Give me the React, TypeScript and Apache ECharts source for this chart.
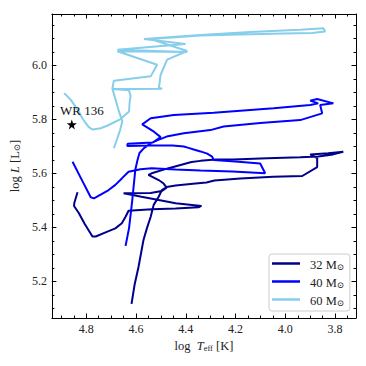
import React, { useEffect, useRef } from 'react';
import * as echarts from 'echarts';

const FONT = '"Liberation Serif", "DejaVu Serif", serif';

// axis extents (log Teff reversed)
const X_MIN = 3.716;
const X_MAX = 4.938;
const Y_MIN = 5.064;
const Y_MAX = 6.19;

const xTickLabels = [3.8, 4.0, 4.2, 4.4, 4.6, 4.8];
const yTickLabels = [5.2, 5.4, 5.6, 5.8, 6.0];
const xMinorTicks = Array.from({ length: 24 }, (_, i) => +(3.75 + i * 0.05).toFixed(2));
const yMinorTicks = Array.from({ length: 22 }, (_, i) => +(5.1 + i * 0.05).toFixed(2));

const seriesNames = ['32', '40', '60'];
const seriesColors = ['#00008b', '#0000ff', '#87ceeb'];

// [log Teff, log L]
const track32: [number, number][] = [
  [4.618, 5.116], [4.606, 5.186], [4.590, 5.253], [4.570, 5.353], [4.556, 5.397],
  [4.541, 5.439], [4.529, 5.483], [4.509, 5.513], [4.496, 5.538], [4.477, 5.549],
  [4.441, 5.555], [4.361, 5.562], [4.317, 5.566], [4.285, 5.573], [4.181, 5.581],
  [4.049, 5.587], [3.932, 5.590], [3.872, 5.623], [3.872, 5.656], [3.900, 5.670],
  [3.828, 5.674], [3.767, 5.680], [3.808, 5.670], [3.868, 5.662], [3.940, 5.659],
  [4.073, 5.656], [4.209, 5.651], [4.281, 5.651], [4.341, 5.646], [4.377, 5.642],
  [4.469, 5.619], [4.537, 5.600], [4.550, 5.594], [4.509, 5.575], [4.489, 5.562],
  [4.477, 5.547], [4.497, 5.534], [4.541, 5.527], [4.650, 5.526], [4.578, 5.513],
  [4.509, 5.501], [4.441, 5.489], [4.337, 5.479], [4.349, 5.474], [4.441, 5.470],
  [4.537, 5.467], [4.630, 5.461], [4.642, 5.439], [4.657, 5.415], [4.683, 5.396],
  [4.715, 5.384], [4.762, 5.366], [4.775, 5.366], [4.806, 5.412], [4.830, 5.453],
  [4.849, 5.479], [4.848, 5.490], [4.835, 5.530],
];

const track40: [number, number][] = [
  [4.642, 5.331], [4.628, 5.397], [4.615, 5.501], [4.603, 5.612], [4.594, 5.649],
  [4.586, 5.675], [4.568, 5.693], [4.541, 5.711], [4.513, 5.723], [4.477, 5.736],
  [4.408, 5.748], [4.301, 5.760], [4.248, 5.773], [4.101, 5.786], [3.940, 5.797],
  [3.852, 5.822], [3.860, 5.853], [3.807, 5.859], [3.872, 5.875], [3.900, 5.869],
  [3.868, 5.859], [3.900, 5.853], [4.047, 5.841], [4.288, 5.824], [4.448, 5.816],
  [4.541, 5.804], [4.575, 5.781], [4.528, 5.754], [4.501, 5.734], [4.533, 5.714],
  [4.634, 5.709], [4.635, 5.701], [4.541, 5.703], [4.453, 5.703], [4.408, 5.699],
  [4.389, 5.694], [4.368, 5.688], [4.341, 5.681], [4.314, 5.673], [4.294, 5.662],
  [4.288, 5.649], [4.201, 5.644], [4.101, 5.636], [4.081, 5.600], [4.213, 5.607],
  [4.341, 5.610], [4.441, 5.614], [4.537, 5.619], [4.582, 5.615], [4.630, 5.606],
  [4.657, 5.581], [4.683, 5.557], [4.710, 5.538], [4.742, 5.521], [4.769, 5.507],
  [4.782, 5.511], [4.822, 5.583], [4.855, 5.643],
];

const track60: [number, number][] = [
  [4.689, 5.693], [4.676, 5.727], [4.664, 5.760], [4.655, 5.793], [4.669, 5.830],
  [4.682, 5.872], [4.695, 5.913], [4.689, 5.943], [4.541, 5.959], [4.515, 6.002],
  [4.675, 6.052], [4.394, 6.049], [4.675, 6.058], [4.401, 6.079], [4.568, 6.097],
  [4.341, 6.112], [4.141, 6.123], [3.940, 6.132], [3.847, 6.137], [3.840, 6.125],
  [3.893, 6.120], [4.008, 6.118], [4.141, 6.115], [4.341, 6.110], [4.541, 6.097],
  [4.394, 6.053], [4.475, 6.021], [4.501, 5.965], [4.508, 5.916], [4.495, 5.913],
  [4.602, 5.912], [4.695, 5.912], [4.628, 5.908], [4.622, 5.886], [4.626, 5.860],
  [4.628, 5.829], [4.662, 5.801], [4.714, 5.777], [4.742, 5.767], [4.774, 5.762],
  [4.790, 5.771], [4.814, 5.801], [4.835, 5.836], [4.862, 5.872], [4.889, 5.897],
];

const wr136: [number, number] = [4.858, 5.781];
const wrLabel = 'WR 136';

const STAR =
  'path://M50,0 L61.8,35.1 L98.1,35.1 L68.8,56.7 L79.4,91 L50,70 L20.6,91 L31.2,56.7 L1.9,35.1 L38.2,35.1 Z';

const txt = { fontFamily: FONT, color: '#222' };

function makeAxis(
  kind: 'x' | 'y',
  position: string,
  ticks: number[],
  len: number,
  withLine: boolean,
  withLabels: boolean,
  extra: any = {}
) {
  return {
    type: 'value',
    position,
    min: kind === 'x' ? X_MIN : Y_MIN,
    max: kind === 'x' ? X_MAX : Y_MAX,
    inverse: kind === 'x',
    axisLine: { show: withLine, onZero: false, lineStyle: { color: '#000', width: 1 } },
    axisTick: {
      show: true,
      inside: true,
      length: len,
      customValues: ticks,
      lineStyle: { color: '#000', width: 1 },
    },
    axisLabel: withLabels
      ? {
          show: true,
          customValues: ticks,
          formatter: (v: number) => v.toFixed(1),
          margin: 5,
          fontSize: 12,
          ...txt,
        }
      : { show: false },
    splitLine: { show: false },
    minorTick: { show: false },
    ...extra,
  };
}

export default function App() {
  const ref = useRef<HTMLDivElement>(null);
  useEffect(() => {
    if (!ref.current) return;
    const chart = echarts.init(ref.current, undefined, { renderer: 'svg' });
    const nameRich = {
      n: { ...txt, fontSize: 12.5, lineHeight: 16, verticalAlign: 'bottom' },
      i: { ...txt, fontSize: 12.5, fontStyle: 'italic', lineHeight: 16, verticalAlign: 'bottom' },
      s: { ...txt, fontSize: 8.5, lineHeight: 11, verticalAlign: 'bottom' },
    };
    const option: any = {
      animation: false,
      grid: { left: 51, top: 14, right: 10, bottom: 48, containLabel: false },
      xAxis: [
        makeAxis('x', 'bottom', xTickLabels, 4.5, true, true, {
          name: '{n|log  }{i|T}{s|eff}{n| [K]}',
          nameLocation: 'middle',
          nameGap: 7,
          nameTextStyle: { ...txt, fontSize: 12.5, rich: nameRich },
        }),
        makeAxis('x', 'bottom', xMinorTicks, 2.5, false, false),
        makeAxis('x', 'top', xTickLabels, 4.5, true, false),
        makeAxis('x', 'top', xMinorTicks, 2.5, false, false),
      ],
      yAxis: [
        makeAxis('y', 'left', yTickLabels, 4.5, true, true, {
          name: '{n|log }{i|L}{n| [L}{s|⊙}{n|]}',
          nameLocation: 'middle',
          nameGap: 28,
          nameTextStyle: { ...txt, fontSize: 12.5, rich: nameRich },
        }),
        makeAxis('y', 'left', yMinorTicks, 2.5, false, false),
        makeAxis('y', 'right', yTickLabels, 4.5, true, false),
        makeAxis('y', 'right', yMinorTicks, 2.5, false, false),
      ],
      legend: {
        data: seriesNames,
        orient: 'vertical',
        left: 269,
        top: 254,
        icon: 'rect',
        itemWidth: 28,
        itemHeight: 2.5,
        itemGap: 4,
        padding: [3, 6, 4, 3],
        backgroundColor: 'rgba(255,255,255,0.85)',
        borderColor: '#cccccc',
        borderWidth: 1,
        borderRadius: 3,
        formatter: (name: string) => `{g|}{n|${name} M}{s|⊙}`,
        textStyle: {
          ...txt,
          fontSize: 12.5,
          rich: {
            g: { width: 5 },
            n: { ...txt, fontSize: 12.5, lineHeight: 15, verticalAlign: 'bottom' },
            s: { ...txt, fontSize: 8.5, lineHeight: 10, verticalAlign: 'bottom' },
          },
        },
      },
      series: [
        ...[track32, track40, track60].map((d, i) => ({
          type: 'line',
          name: seriesNames[i],
          data: d,
          xAxisIndex: 0,
          yAxisIndex: 0,
          symbol: 'none',
          showSymbol: false,
          smooth: false,
          lineStyle: { width: 2, color: seriesColors[i] },
          itemStyle: { color: seriesColors[i] },
          z: 2 + i,
        })),
        {
          type: 'scatter',
          name: 'WR',
          data: [wr136],
          xAxisIndex: 0,
          yAxisIndex: 0,
          symbol: STAR,
          symbolSize: 10,
          itemStyle: { color: '#000', opacity: 1 },
          label: {
            show: true,
            formatter: wrLabel,
            position: 'top',
            distance: 2,
            offset: [10, 0],
            fontSize: 13,
            fontFamily: FONT,
            color: '#111',
            opacity: 1,
          },
          z: 10,
        },
      ],
    };
    chart.setOption(option);
    return () => chart.dispose();
  }, []);
  return (
    <div
      ref={ref}
      style={{ position: 'fixed', left: 0, top: 0, width: 366, height: 366, background: '#fff' }}
    />
  );
}
